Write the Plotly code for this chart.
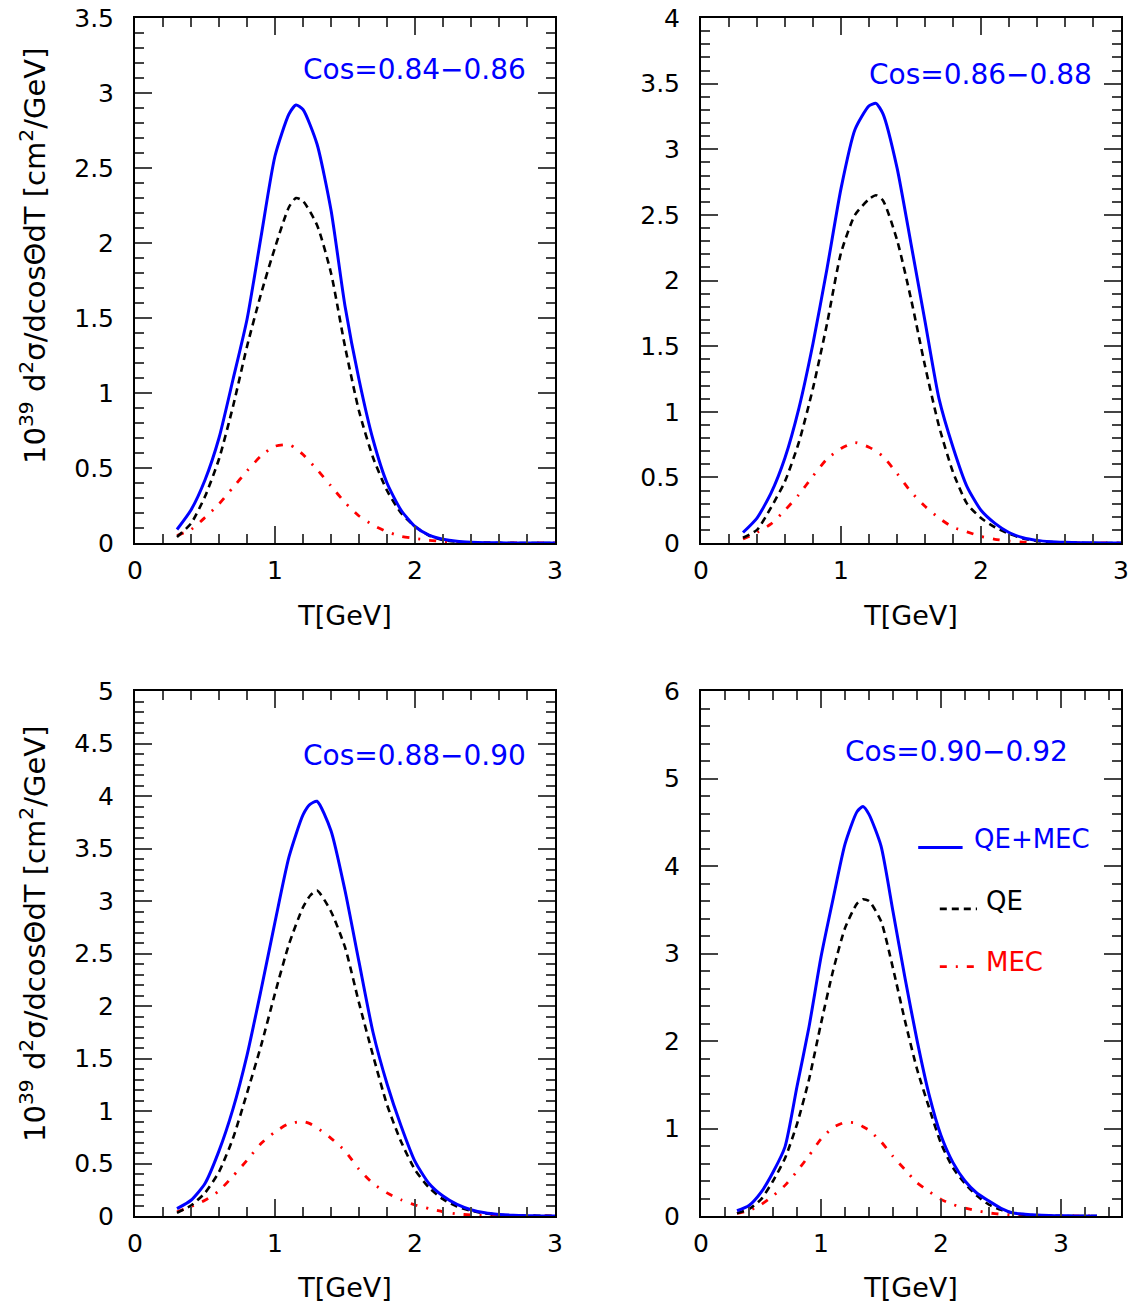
import plotly.graph_objects as go

# ---------------- data ----------------
T_1 = [0.3, 0.4, 0.5, 0.6, 0.7, 0.8, 0.9, 1.0, 1.1, 1.15, 1.2, 1.3, 1.4, 1.5, 1.6, 1.7,
       1.8, 1.9, 2.0, 2.1, 2.2, 2.3, 2.4, 2.5, 2.6, 2.7, 2.8, 2.9, 3.0]
T_2 = [0.3, 0.4, 0.5, 0.6, 0.7, 0.8, 0.9, 1.0, 1.1, 1.2, 1.25, 1.3, 1.4, 1.5, 1.6, 1.7,
       1.8, 1.9, 2.0, 2.1, 2.2, 2.3, 2.4, 2.5, 2.6, 2.7, 2.8, 2.9, 3.0]
T_3 = [0.3, 0.4, 0.5, 0.6, 0.7, 0.8, 0.9, 1.0, 1.1, 1.2, 1.25, 1.3, 1.4, 1.5, 1.6, 1.7,
       1.8, 1.9, 2.0, 2.1, 2.2, 2.3, 2.4, 2.5, 2.6, 2.7, 2.8, 2.9, 3.0]
T_4 = [0.3, 0.4, 0.5, 0.6, 0.7, 0.8, 0.9, 1.0, 1.1, 1.2, 1.3, 1.35, 1.4, 1.5, 1.6, 1.7,
       1.8, 1.9, 2.0, 2.1, 2.2, 2.3, 2.4, 2.5, 2.6, 2.7, 2.8, 2.9, 3.0, 3.1, 3.2, 3.3]

# Cos = 0.84-0.86
tot_1 = [0.09, 0.22, 0.42, 0.70, 1.09, 1.49, 2.04, 2.58, 2.86, 2.92, 2.89, 2.66, 2.22, 1.58,
         1.09, 0.69, 0.40, 0.22, 0.11, 0.053, 0.025, 0.011, 0.005, 0.002, 0.001, 0, 0, 0, 0]
qe_1 = [0.04, 0.13, 0.31, 0.56, 0.91, 1.31, 1.66, 1.97, 2.24, 2.30, 2.28, 2.12, 1.80, 1.31,
        0.88, 0.57, 0.35, 0.20, 0.11, 0.05, 0.02, 0.008, 0.003, 0.001, 0, 0, 0, 0, 0]
mec_1 = [0.05, 0.09, 0.17, 0.26, 0.37, 0.48, 0.58, 0.645, 0.655, 0.63, 0.59, 0.49, 0.38, 0.27,
         0.18, 0.12, 0.075, 0.045, 0.03, 0.018, 0.01, 0.005, 0.002, 0.001, 0, 0, 0, 0, 0]

# Cos = 0.86-0.88
tot_2 = [0.08, 0.19, 0.38, 0.65, 1.03, 1.52, 2.09, 2.70, 3.15, 3.33, 3.35, 3.27, 2.86, 2.28,
         1.69, 1.10, 0.73, 0.43, 0.25, 0.15, 0.08, 0.04, 0.02, 0.01, 0.005, 0.002, 0.001, 0, 0]
qe_2 = [0.04, 0.10, 0.27, 0.47, 0.77, 1.18, 1.67, 2.21, 2.50, 2.62, 2.65, 2.61, 2.31, 1.86,
        1.35, 0.89, 0.54, 0.30, 0.19, 0.12, 0.07, 0.035, 0.015, 0.007, 0.003, 0.001, 0, 0, 0]
mec_2 = [0.03, 0.08, 0.145, 0.25, 0.37, 0.51, 0.64, 0.72, 0.765, 0.73, 0.70, 0.66, 0.53, 0.39,
         0.28, 0.19, 0.12, 0.085, 0.05, 0.028, 0.015, 0.007, 0.003, 0.001, 0, 0, 0, 0, 0]

# Cos = 0.88-0.90
tot_3 = [0.07, 0.15, 0.31, 0.62, 1.02, 1.53, 2.15, 2.80, 3.42, 3.82, 3.92, 3.95, 3.67, 3.10,
         2.42, 1.75, 1.26, 0.86, 0.52, 0.31, 0.19, 0.11, 0.06, 0.03, 0.015, 0.007, 0.003, 0.001, 0]
qe_3 = [0.03, 0.10, 0.22, 0.42, 0.74, 1.17, 1.62, 2.12, 2.59, 2.94, 3.05, 3.10, 2.90, 2.56,
        2.03, 1.53, 1.06, 0.71, 0.44, 0.27, 0.16, 0.09, 0.05, 0.025, 0.012, 0.005, 0.002, 0.001, 0]
mec_3 = [0.04, 0.09, 0.15, 0.24, 0.38, 0.53, 0.69, 0.80, 0.88, 0.90, 0.88, 0.84, 0.74, 0.62,
         0.445, 0.31, 0.22, 0.155, 0.105, 0.07, 0.04, 0.02, 0.01, 0.005, 0.002, 0.001, 0, 0, 0]

# Cos = 0.90-0.92
tot_4 = [0.06, 0.12, 0.27, 0.50, 0.79, 1.48, 2.16, 2.96, 3.62, 4.25, 4.62, 4.68, 4.59, 4.23,
         3.48, 2.72, 2.01, 1.39, 0.92, 0.61, 0.40, 0.26, 0.17, 0.088, 0.035, 0.02, 0.01, 0.005,
         0.002, 0.001, 0, 0]
qe_4 = [0.03, 0.08, 0.19, 0.40, 0.66, 1.05, 1.56, 2.20, 2.80, 3.29, 3.57, 3.62, 3.60, 3.37,
        2.83, 2.23, 1.68, 1.24, 0.83, 0.55, 0.37, 0.23, 0.13, 0.07, 0.035, 0.015, 0.006, 0.002,
        0.001, 0, 0, 0]
mec_4 = [0.03, 0.06, 0.13, 0.23, 0.35, 0.51, 0.69, 0.88, 1.01, 1.07, 1.06, 1.02, 0.98, 0.85,
         0.68, 0.53, 0.38, 0.28, 0.19, 0.13, 0.09, 0.06, 0.035, 0.02, 0.01, 0.005, 0.002, 0.001,
         0, 0, 0, 0]

panel_labels = ["Cos=0.84\u22120.86", "Cos=0.86\u22120.88", "Cos=0.88\u22120.90", "Cos=0.90\u22120.92"]
legend_names = ["QE+MEC", "QE", "MEC"]
x_title = "T[GeV]"
y_title = "10<sup>39</sup> d<sup>2</sup>\u03c3/dcos\u0398dT [cm<sup>2</sup>/GeV]"

# ---------------- style ----------------
W, H = 1137, 1303
FONT = "DejaVu Sans"
BLUE, BLACK, RED = "#0000ff", "#000000", "#ff0000"
DASH_QE = "7px,5px"
DASH_MEC = "7px,9px,2px,9px"


def px_x(p):
    return p / W


def px_y(p):
    return 1 - p / H


panels = [
    dict(T=T_1, tot=tot_1, qe=qe_1, mec=mec_1, xd=(135, 555), yd=(18, 543), xr=3.0, yr=3.5, ydt=0.5, ymin=0.1),
    dict(T=T_2, tot=tot_2, qe=qe_2, mec=mec_2, xd=(701, 1121), yd=(18, 543), xr=3.0, yr=4.0, ydt=0.5, ymin=0.1),
    dict(T=T_3, tot=tot_3, qe=qe_3, mec=mec_3, xd=(135, 555), yd=(691, 1216), xr=3.0, yr=5.0, ydt=0.5, ymin=0.1),
    dict(T=T_4, tot=tot_4, qe=qe_4, mec=mec_4, xd=(701, 1121), yd=(691, 1216), xr=3.5, yr=6.0, ydt=1.0, ymin=0.2),
]

fig = go.Figure()
layout = dict(
    width=W, height=H, margin=dict(l=0, r=0, t=0, b=0, autoexpand=False),
    paper_bgcolor="white", plot_bgcolor="white", showlegend=False,
    font=dict(family=FONT, size=21, color="black"),
)
annotations = []
shapes = []

label_pos = [(2.81, 3.16), (2.81, 3.57), (2.81, 4.39), (3.075, 5.31)]

for i, p in enumerate(panels):
    n = i + 1
    xa = "x" if n == 1 else f"x{n}"
    ya = "y" if n == 1 else f"y{n}"
    for series, color, dash, width in [(p["mec"], RED, DASH_MEC, 2.8),
                                       (p["qe"], BLACK, DASH_QE, 2.6),
                                       (p["tot"], BLUE, "solid", 3)]:
        fig.add_trace(go.Scatter(
            x=p["T"], y=series, mode="lines", xaxis=xa, yaxis=ya,
            line=dict(color=color, dash=dash, width=width, shape="spline", smoothing=0.6),
            hoverinfo="skip"))
    common = dict(
        showline=True, linecolor="black", linewidth=2, mirror="allticks",
        ticks="inside", tickcolor="#444", tickwidth=1.5, ticklen=17,
        showgrid=False, zeroline=False, automargin=False,
        tickfont=dict(family=FONT, size=25, color="black"),
    )
    layout[f"xaxis{'' if n == 1 else n}"] = dict(
        common, domain=[px_x(p["xd"][0]), px_x(p["xd"][1])], range=[0, p["xr"]],
        dtick=1, tick0=0, anchor=ya,
        minor=dict(ticks="inside", dtick=0.2, tick0=0, ticklen=9, tickcolor="#444", tickwidth=1.5),
        ticklabelstandoff=4,
        title=dict(text=x_title, font=dict(family=FONT, size=27), standoff=22),
    )
    layout[f"yaxis{'' if n == 1 else n}"] = dict(
        common, domain=[px_y(p["yd"][1]), px_y(p["yd"][0])], range=[0, p["yr"]],
        dtick=p["ydt"], tick0=0, anchor=xa,
        minor=dict(ticks="inside", dtick=p["ymin"], tick0=0, ticklen=9, tickcolor="#444", tickwidth=1.5),
        ticklabelstandoff=14,
    )
    lx, ly = label_pos[i]
    annotations.append(dict(
        x=lx, y=ly, xref=xa, yref=ya, text=panel_labels[i], showarrow=False,
        xanchor="right", yanchor="middle", font=dict(family=FONT, size=28, color=BLUE)))

# y-axis titles (left column)
for yc in (256, 934):
    annotations.append(dict(
        x=px_x(33), y=px_y(yc), xref="paper", yref="paper", text=y_title,
        textangle=-90, showarrow=False, xanchor="center", yanchor="middle",
        font=dict(family=FONT, size=29, color="black")))

# legend in the last panel
leg = [(legend_names[0], BLUE, "solid", 1.81, 2.18, 4.21, 2.26, 4.31, 3),
       (legend_names[1], BLACK, DASH_QE, 1.99, 2.30, 3.51, 2.36, 3.60, 2.6),
       (legend_names[2], RED, DASH_MEC, 1.99, 2.30, 2.85, 2.36, 2.90, 2.8)]
for name, color, dash, x0, x1, yl, tx, ty, w in leg:
    shapes.append(dict(type="line", xref="x4", yref="y4", x0=x0, x1=x1, y0=yl, y1=yl,
                       line=dict(color=color, dash=dash, width=w)))
    annotations.append(dict(x=tx, y=ty, xref="x4", yref="y4", text=name, showarrow=False,
                            xanchor="left", yanchor="middle",
                            font=dict(family=FONT, size=26, color=color)))

layout["annotations"] = annotations
layout["shapes"] = shapes
fig.update_layout(**layout)
fig.write_html("out.html")
